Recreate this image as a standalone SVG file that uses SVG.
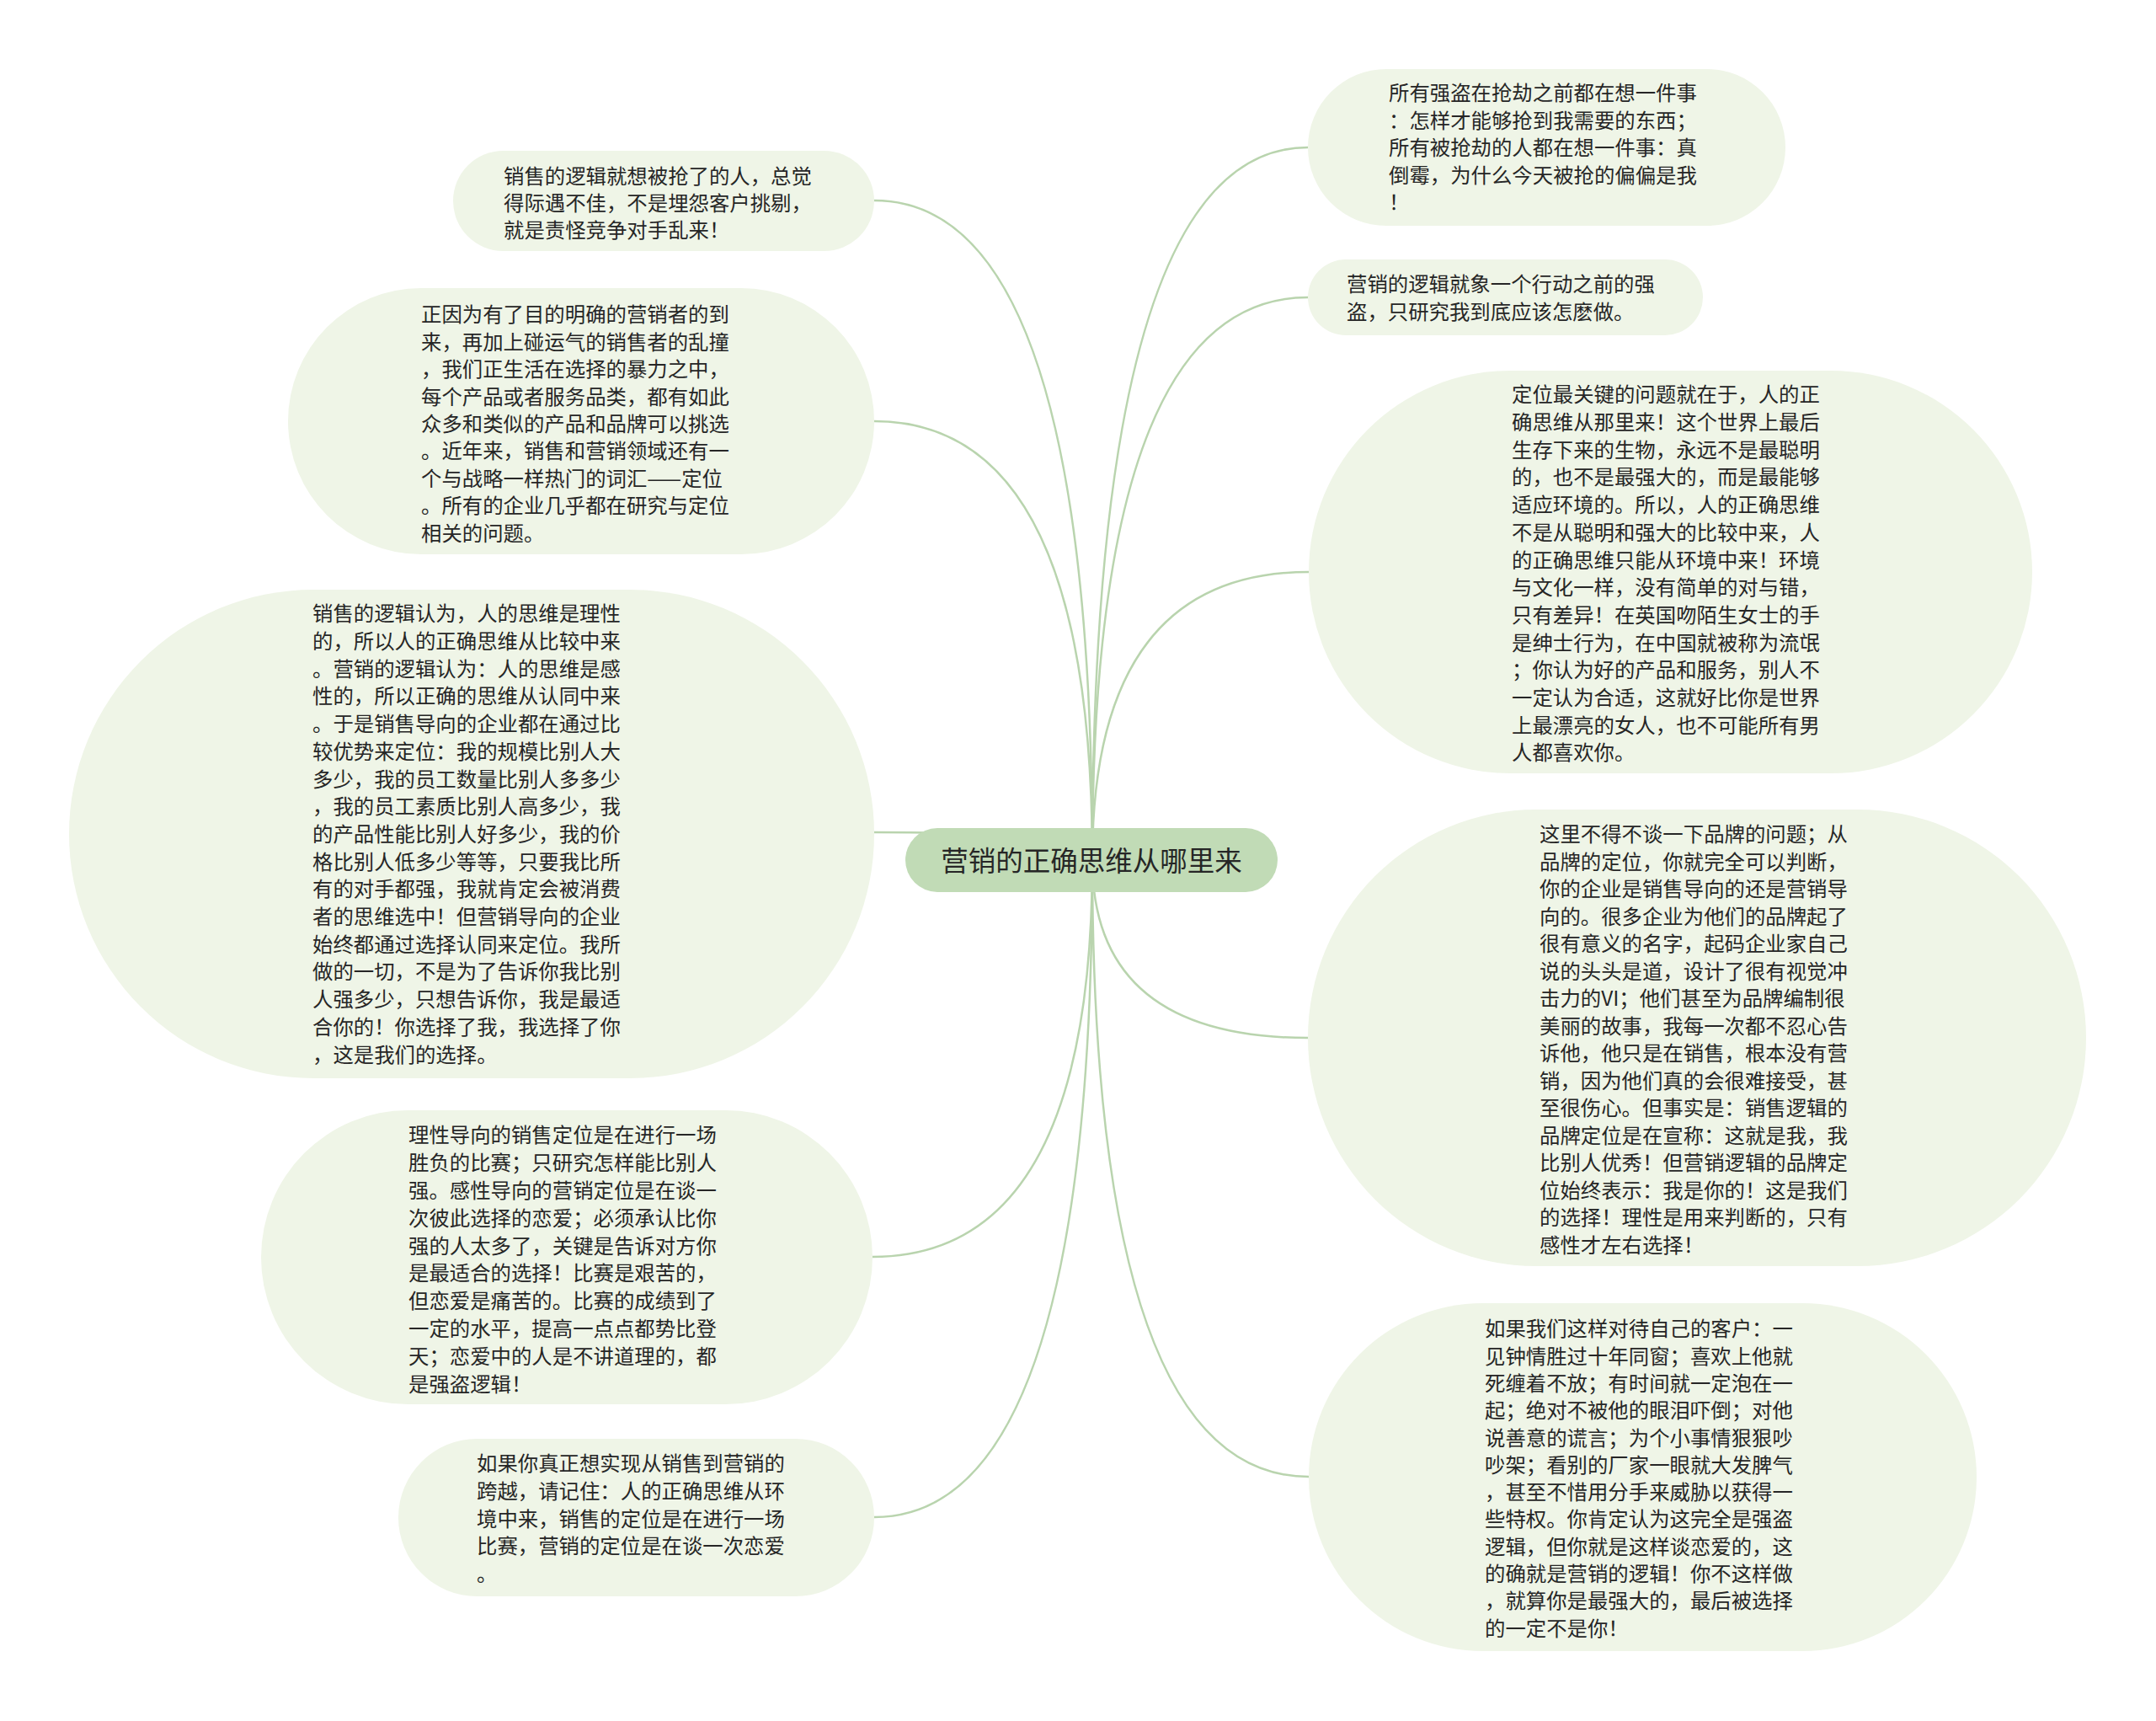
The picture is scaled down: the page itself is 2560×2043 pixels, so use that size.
<svg xmlns="http://www.w3.org/2000/svg" width="2560" height="2043" viewBox="0 0 2560 2043">
<style>
.bg{fill:#ffffff}
.node{fill:#eff5e7}
.root{fill:#c1dbb6}
.conn{fill:none;stroke:#b9d4ae;stroke-width:2.5}
.t{font-family:"Noto Sans CJK SC","Noto Sans",sans-serif;font-size:24.4px;fill:#262626}
.rt{font-family:"Noto Sans CJK SC","Noto Sans",sans-serif;font-size:32.5px;fill:#262626;text-anchor:middle}
</style>
<rect class="bg" x="0" y="0" width="2560" height="2043"/>
<g id="connectors">
<path class="conn" d="M1297 1021 Q1297 238 1038 238"/>
<path class="conn" d="M1297 1021 Q1297 500 1038 500"/>
<path class="conn" d="M1297 1021 Q1297 988 1038 988"/>
<path class="conn" d="M1297 1021 Q1297 1492 1036 1492"/>
<path class="conn" d="M1297 1021 Q1297 1801 1038 1801"/>
<path class="conn" d="M1297 1021 Q1297 175 1553 175"/>
<path class="conn" d="M1297 1021 Q1297 353 1553 353"/>
<path class="conn" d="M1297 1021 Q1297 679 1554 679"/>
<path class="conn" d="M1297 1021 Q1297 1232 1553 1232"/>
<path class="conn" d="M1297 1021 Q1297 1753 1554 1753"/>
</g>
<g id="root">
<rect class="root" x="1075" y="983" width="442" height="76" rx="38"/>
<text class="rt" x="1296" y="1034">营销的正确思维从哪里来</text>
</g>
<g id="node-l1">
<rect class="node" x="538" y="179" width="500" height="119" rx="59.5"/>
<text class="t" x="598" y="218.3"><tspan x="598">销售的逻辑就想被抢了的人，总觉</tspan><tspan x="598" dy="32">得际遇不佳，不是埋怨客户挑剔，</tspan><tspan x="598" dy="32">就是责怪竞争对手乱来！</tspan></text>
</g>
<g id="node-l2">
<rect class="node" x="342" y="342" width="696" height="316" rx="158"/>
<text class="t" x="500" y="382.3"><tspan x="500">正因为有了目的明确的营销者的到</tspan><tspan x="500" dy="32.4">来，再加上碰运气的销售者的乱撞</tspan><tspan x="500" dy="32.4">，我们正生活在选择的暴力之中，</tspan><tspan x="500" dy="32.4">每个产品或者服务品类，都有如此</tspan><tspan x="500" dy="32.4">众多和类似的产品和品牌可以挑选</tspan><tspan x="500" dy="32.4">。近年来，销售和营销领域还有一</tspan><tspan x="500" dy="32.4">个与战略一样热门的词汇——定位</tspan><tspan x="500" dy="32.4">。所有的企业几乎都在研究与定位</tspan><tspan x="500" dy="32.4">相关的问题。</tspan></text>
</g>
<g id="node-l3">
<rect class="node" x="82" y="700" width="956" height="580" rx="290"/>
<text class="t" x="371" y="737.3"><tspan x="371">销售的逻辑认为，人的思维是理性</tspan><tspan x="371" dy="32.7">的，所以人的正确思维从比较中来</tspan><tspan x="371" dy="32.7">。营销的逻辑认为：人的思维是感</tspan><tspan x="371" dy="32.7">性的，所以正确的思维从认同中来</tspan><tspan x="371" dy="32.7">。于是销售导向的企业都在通过比</tspan><tspan x="371" dy="32.7">较优势来定位：我的规模比别人大</tspan><tspan x="371" dy="32.7">多少，我的员工数量比别人多多少</tspan><tspan x="371" dy="32.7">，我的员工素质比别人高多少，我</tspan><tspan x="371" dy="32.7">的产品性能比别人好多少，我的价</tspan><tspan x="371" dy="32.7">格比别人低多少等等，只要我比所</tspan><tspan x="371" dy="32.7">有的对手都强，我就肯定会被消费</tspan><tspan x="371" dy="32.7">者的思维选中！但营销导向的企业</tspan><tspan x="371" dy="32.7">始终都通过选择认同来定位。我所</tspan><tspan x="371" dy="32.7">做的一切，不是为了告诉你我比别</tspan><tspan x="371" dy="32.7">人强多少，只想告诉你，我是最适</tspan><tspan x="371" dy="32.7">合你的！你选择了我，我选择了你</tspan><tspan x="371" dy="32.7">，这是我们的选择。</tspan></text>
</g>
<g id="node-l4">
<rect class="node" x="310" y="1318" width="726" height="349" rx="174.5"/>
<text class="t" x="485" y="1356.3"><tspan x="485">理性导向的销售定位是在进行一场</tspan><tspan x="485" dy="32.8">胜负的比赛；只研究怎样能比别人</tspan><tspan x="485" dy="32.8">强。感性导向的营销定位是在谈一</tspan><tspan x="485" dy="32.8">次彼此选择的恋爱；必须承认比你</tspan><tspan x="485" dy="32.8">强的人太多了，关键是告诉对方你</tspan><tspan x="485" dy="32.8">是最适合的选择！比赛是艰苦的，</tspan><tspan x="485" dy="32.8">但恋爱是痛苦的。比赛的成绩到了</tspan><tspan x="485" dy="32.8">一定的水平，提高一点点都势比登</tspan><tspan x="485" dy="32.8">天；恋爱中的人是不讲道理的，都</tspan><tspan x="485" dy="32.8">是强盗逻辑！</tspan></text>
</g>
<g id="node-l5">
<rect class="node" x="473" y="1708" width="565" height="187" rx="93.5"/>
<text class="t" x="566" y="1746.3"><tspan x="566">如果你真正想实现从销售到营销的</tspan><tspan x="566" dy="32.6">跨越，请记住：人的正确思维从环</tspan><tspan x="566" dy="32.6">境中来，销售的定位是在进行一场</tspan><tspan x="566" dy="32.6">比赛，营销的定位是在谈一次恋爱</tspan><tspan x="566" dy="32.6">。</tspan></text>
</g>
<g id="node-r1">
<rect class="node" x="1553" y="82" width="567" height="186" rx="93"/>
<text class="t" x="1649" y="119.3"><tspan x="1649">所有强盗在抢劫之前都在想一件事</tspan><tspan x="1649" dy="32.5">：怎样才能够抢到我需要的东西；</tspan><tspan x="1649" dy="32.5">所有被抢劫的人都在想一件事：真</tspan><tspan x="1649" dy="32.5">倒霉，为什么今天被抢的偏偏是我</tspan><tspan x="1649" dy="32.5">！</tspan></text>
</g>
<g id="node-r2">
<rect class="node" x="1553" y="308" width="469" height="90" rx="45"/>
<text class="t" x="1599" y="346.3"><tspan x="1599">营销的逻辑就象一个行动之前的强</tspan><tspan x="1599" dy="32.5">盗，只研究我到底应该怎麽做。</tspan></text>
</g>
<g id="node-r3">
<rect class="node" x="1554" y="440" width="859" height="478" rx="239"/>
<text class="t" x="1795" y="477.3"><tspan x="1795">定位最关键的问题就在于，人的正</tspan><tspan x="1795" dy="32.7">确思维从那里来！这个世界上最后</tspan><tspan x="1795" dy="32.7">生存下来的生物，永远不是最聪明</tspan><tspan x="1795" dy="32.7">的，也不是最强大的，而是最能够</tspan><tspan x="1795" dy="32.7">适应环境的。所以，人的正确思维</tspan><tspan x="1795" dy="32.7">不是从聪明和强大的比较中来，人</tspan><tspan x="1795" dy="32.7">的正确思维只能从环境中来！环境</tspan><tspan x="1795" dy="32.7">与文化一样，没有简单的对与错，</tspan><tspan x="1795" dy="32.7">只有差异！在英国吻陌生女士的手</tspan><tspan x="1795" dy="32.7">是绅士行为，在中国就被称为流氓</tspan><tspan x="1795" dy="32.7">；你认为好的产品和服务，别人不</tspan><tspan x="1795" dy="32.7">一定认为合适，这就好比你是世界</tspan><tspan x="1795" dy="32.7">上最漂亮的女人，也不可能所有男</tspan><tspan x="1795" dy="32.7">人都喜欢你。</tspan></text>
</g>
<g id="node-r4">
<rect class="node" x="1553" y="961" width="924" height="542" rx="271"/>
<text class="t" x="1828" y="999.3"><tspan x="1828">这里不得不谈一下品牌的问题；从</tspan><tspan x="1828" dy="32.5">品牌的定位，你就完全可以判断，</tspan><tspan x="1828" dy="32.5">你的企业是销售导向的还是营销导</tspan><tspan x="1828" dy="32.5">向的。很多企业为他们的品牌起了</tspan><tspan x="1828" dy="32.5">很有意义的名字，起码企业家自己</tspan><tspan x="1828" dy="32.5">说的头头是道，设计了很有视觉冲</tspan><tspan x="1828" dy="32.5">击力的VI；他们甚至为品牌编制很</tspan><tspan x="1828" dy="32.5">美丽的故事，我每一次都不忍心告</tspan><tspan x="1828" dy="32.5">诉他，他只是在销售，根本没有营</tspan><tspan x="1828" dy="32.5">销，因为他们真的会很难接受，甚</tspan><tspan x="1828" dy="32.5">至很伤心。但事实是：销售逻辑的</tspan><tspan x="1828" dy="32.5">品牌定位是在宣称：这就是我，我</tspan><tspan x="1828" dy="32.5">比别人优秀！但营销逻辑的品牌定</tspan><tspan x="1828" dy="32.5">位始终表示：我是你的！这是我们</tspan><tspan x="1828" dy="32.5">的选择！理性是用来判断的，只有</tspan><tspan x="1828" dy="32.5">感性才左右选择！</tspan></text>
</g>
<g id="node-r5">
<rect class="node" x="1554" y="1547" width="793" height="413" rx="206.5"/>
<text class="t" x="1763" y="1586.3"><tspan x="1763">如果我们这样对待自己的客户：一</tspan><tspan x="1763" dy="32.3">见钟情胜过十年同窗；喜欢上他就</tspan><tspan x="1763" dy="32.3">死缠着不放；有时间就一定泡在一</tspan><tspan x="1763" dy="32.3">起；绝对不被他的眼泪吓倒；对他</tspan><tspan x="1763" dy="32.3">说善意的谎言；为个小事情狠狠吵</tspan><tspan x="1763" dy="32.3">吵架；看别的厂家一眼就大发脾气</tspan><tspan x="1763" dy="32.3">，甚至不惜用分手来威胁以获得一</tspan><tspan x="1763" dy="32.3">些特权。你肯定认为这完全是强盗</tspan><tspan x="1763" dy="32.3">逻辑，但你就是这样谈恋爱的，这</tspan><tspan x="1763" dy="32.3">的确就是营销的逻辑！你不这样做</tspan><tspan x="1763" dy="32.3">，就算你是最强大的，最后被选择</tspan><tspan x="1763" dy="32.3">的一定不是你！</tspan></text>
</g>
</svg>
